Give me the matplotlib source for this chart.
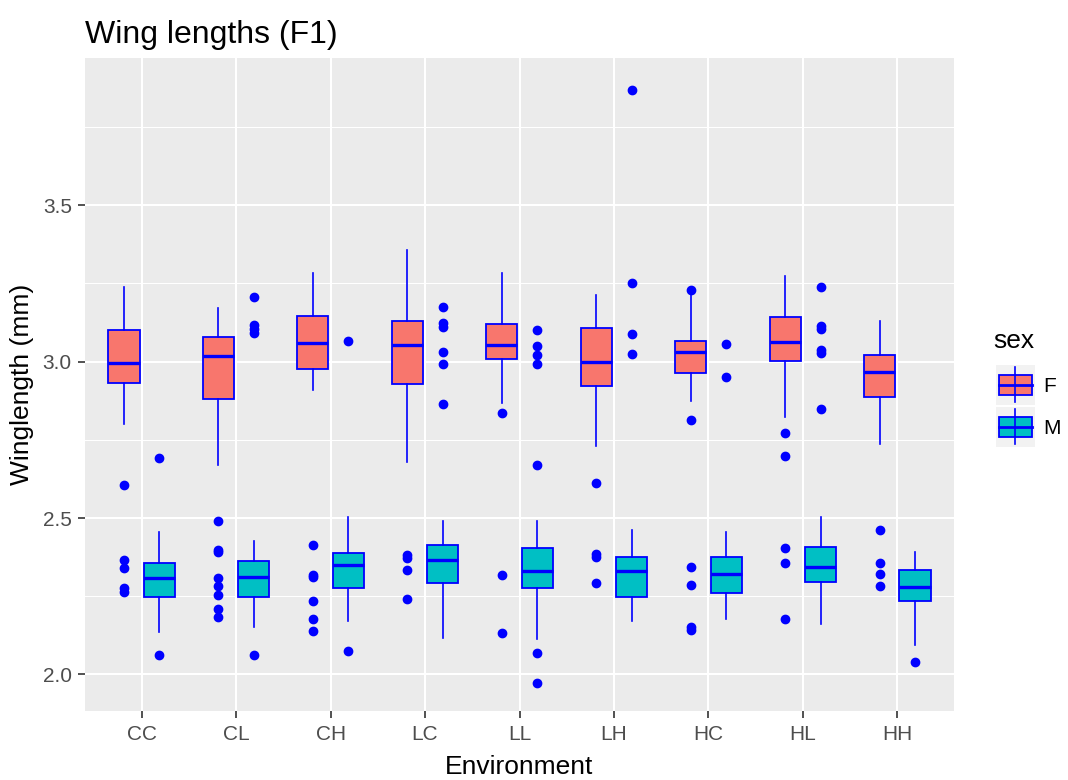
import numpy as np
import matplotlib.pyplot as plt
from matplotlib.patches import Rectangle
from matplotlib.ticker import MultipleLocator

plt.rcParams['font.family'] = ['Liberation Sans', 'DejaVu Sans']

# environments on the x axis
envs = ['CC', 'CL', 'CH', 'LC', 'LL', 'LH', 'HC', 'HL', 'HH']
sexes = ['F', 'M']
fills = ['#F8766D', '#00BFC4']

# females: whisker low, q1, median, q3, whisker high, outliers
f_lo = [2.801, 2.670, 2.909, 2.678, 2.867, 2.730, 2.874, 2.824, 2.737]
f_q1 = [2.933, 2.882, 2.976, 2.928, 3.009, 2.922, 2.963, 3.003, 2.888]
f_med = [2.995, 3.018, 3.059, 3.052, 3.052, 3.000, 3.030, 3.064, 2.966]
f_q3 = [3.102, 3.078, 3.146, 3.130, 3.120, 3.108, 3.067, 3.142, 3.020]
f_hi = [3.240, 3.172, 3.283, 3.358, 3.282, 3.214, 3.215, 3.275, 3.131]
f_out = [[2.605, 2.366, 2.339, 2.275, 2.264],
         [2.490, 2.399, 2.390, 2.307, 2.282, 2.253, 2.208, 2.184],
         [2.415, 2.318, 2.310, 2.235, 2.178, 2.139],
         [2.382, 2.371, 2.334, 2.241],
         [2.836, 2.317, 2.133],
         [2.611, 2.386, 2.375, 2.293],
         [3.229, 2.813, 2.344, 2.285, 2.150, 2.142],
         [2.773, 2.698, 2.403, 2.357, 2.178],
         [2.462, 2.357, 2.322, 2.282]]

# males
m_lo = [2.136, 2.152, 2.171, 2.118, 2.113, 2.171, 2.176, 2.160, 2.095]
m_q1 = [2.246, 2.246, 2.276, 2.293, 2.275, 2.246, 2.259, 2.297, 2.236]
m_med = [2.308, 2.310, 2.349, 2.366, 2.331, 2.331, 2.320, 2.343, 2.279]
m_q3 = [2.357, 2.362, 2.387, 2.415, 2.404, 2.375, 2.375, 2.408, 2.334]
m_hi = [2.456, 2.427, 2.502, 2.491, 2.491, 2.462, 2.456, 2.502, 2.392]
m_out = [[2.692, 2.063],
         [3.206, 3.117, 3.105, 3.093, 2.063],
         [3.067, 2.075],
         [3.176, 3.125, 3.112, 3.032, 2.992, 2.865],
         [3.102, 3.050, 3.021, 2.992, 2.670, 2.069, 1.971],
         [3.869, 3.251, 3.090, 3.026],
         [3.056, 2.951],
         [3.240, 3.115, 3.105, 3.037, 3.027, 2.848],
         [2.039]]


def make_stats(lo, q1, med, q3, hi, out):
    return [dict(whislo=a, q1=b, med=c, q3=d, whishi=e, fliers=f)
            for a, b, c, d, e, f in zip(lo, q1, med, q3, hi, out)]


fig = plt.figure(figsize=(10.68, 7.8), dpi=100)
ax = fig.add_axes([85 / 1068, 1 - 711 / 780, 869 / 1068, 653 / 780])
ax.set_facecolor('#EBEBEB')

x = np.arange(1, len(envs) + 1)
groups = [(-0.1875, make_stats(f_lo, f_q1, f_med, f_q3, f_hi, f_out), fills[0]),
          (0.1875, make_stats(m_lo, m_q1, m_med, m_q3, m_hi, m_out), fills[1])]
for off, st, fill in groups:
    ax.bxp(st, positions=x + off, widths=0.33, patch_artist=True,
           showcaps=False, manage_ticks=False,
           boxprops=dict(facecolor=fill, edgecolor='blue', linewidth=1.3),
           medianprops=dict(color='blue', linewidth=2.4),
           whiskerprops=dict(color='blue', linewidth=1.2),
           flierprops=dict(marker='o', markerfacecolor='blue',
                           markeredgecolor='blue', markersize=6))

ax.set_xlim(0.4, 9.6)
ax.set_ylim(1.883, 3.971)
ax.set_xticks(x, envs)
ax.set_yticks([2.0, 2.5, 3.0, 3.5], ['2.0', '2.5', '3.0', '3.5'])
ax.yaxis.set_minor_locator(MultipleLocator(0.25))
ax.set_axisbelow(True)
ax.grid(which='major', color='white', lw=1.5)
ax.grid(which='minor', axis='y', color='white', lw=0.75)
for s in ax.spines.values():
    s.set_visible(False)
ax.tick_params(which='major', length=5, width=1.2, color='#333333',
               labelcolor='#4D4D4D', labelsize=15)
ax.tick_params(axis='x', pad=5)
ax.tick_params(axis='y', pad=4.5)
ax.tick_params(which='minor', length=0)

ax.set_title('Wing lengths (F1)', loc='left', fontsize=23, pad=11)
ax.set_xlabel('Environment', fontsize=19, labelpad=8)
ax.set_ylabel('Winglength (mm)', fontsize=19, labelpad=6)

# legend drawn on a transparent overlay in pixel units
lax = fig.add_axes([0, 0, 1, 1], facecolor='none')
lax.set_xlim(0, 1068)
lax.set_ylim(780, 0)
lax.axis('off')
lax.text(993, 341, 'sex', fontsize=19, va='center', ha='left')
for i, (lab, fill) in enumerate(zip(sexes, fills)):
    top = 365 + 42 * i
    lax.add_patch(Rectangle((996, top), 39, 40, facecolor='#F2F2F2',
                            edgecolor='none'))
    lax.plot([1015, 1015], [top + 2, top + 37], color='blue', lw=1.2)
    lax.add_patch(Rectangle((998.5, top + 10), 33, 20, facecolor=fill,
                            edgecolor='blue', lw=1.3))
    lax.plot([998.5, 1031.5], [top + 20, top + 20], color='blue', lw=2)
    lax.text(1043, top + 21, lab, fontsize=15, va='center', ha='left')

fig.savefig('out.png', dpi=100)
